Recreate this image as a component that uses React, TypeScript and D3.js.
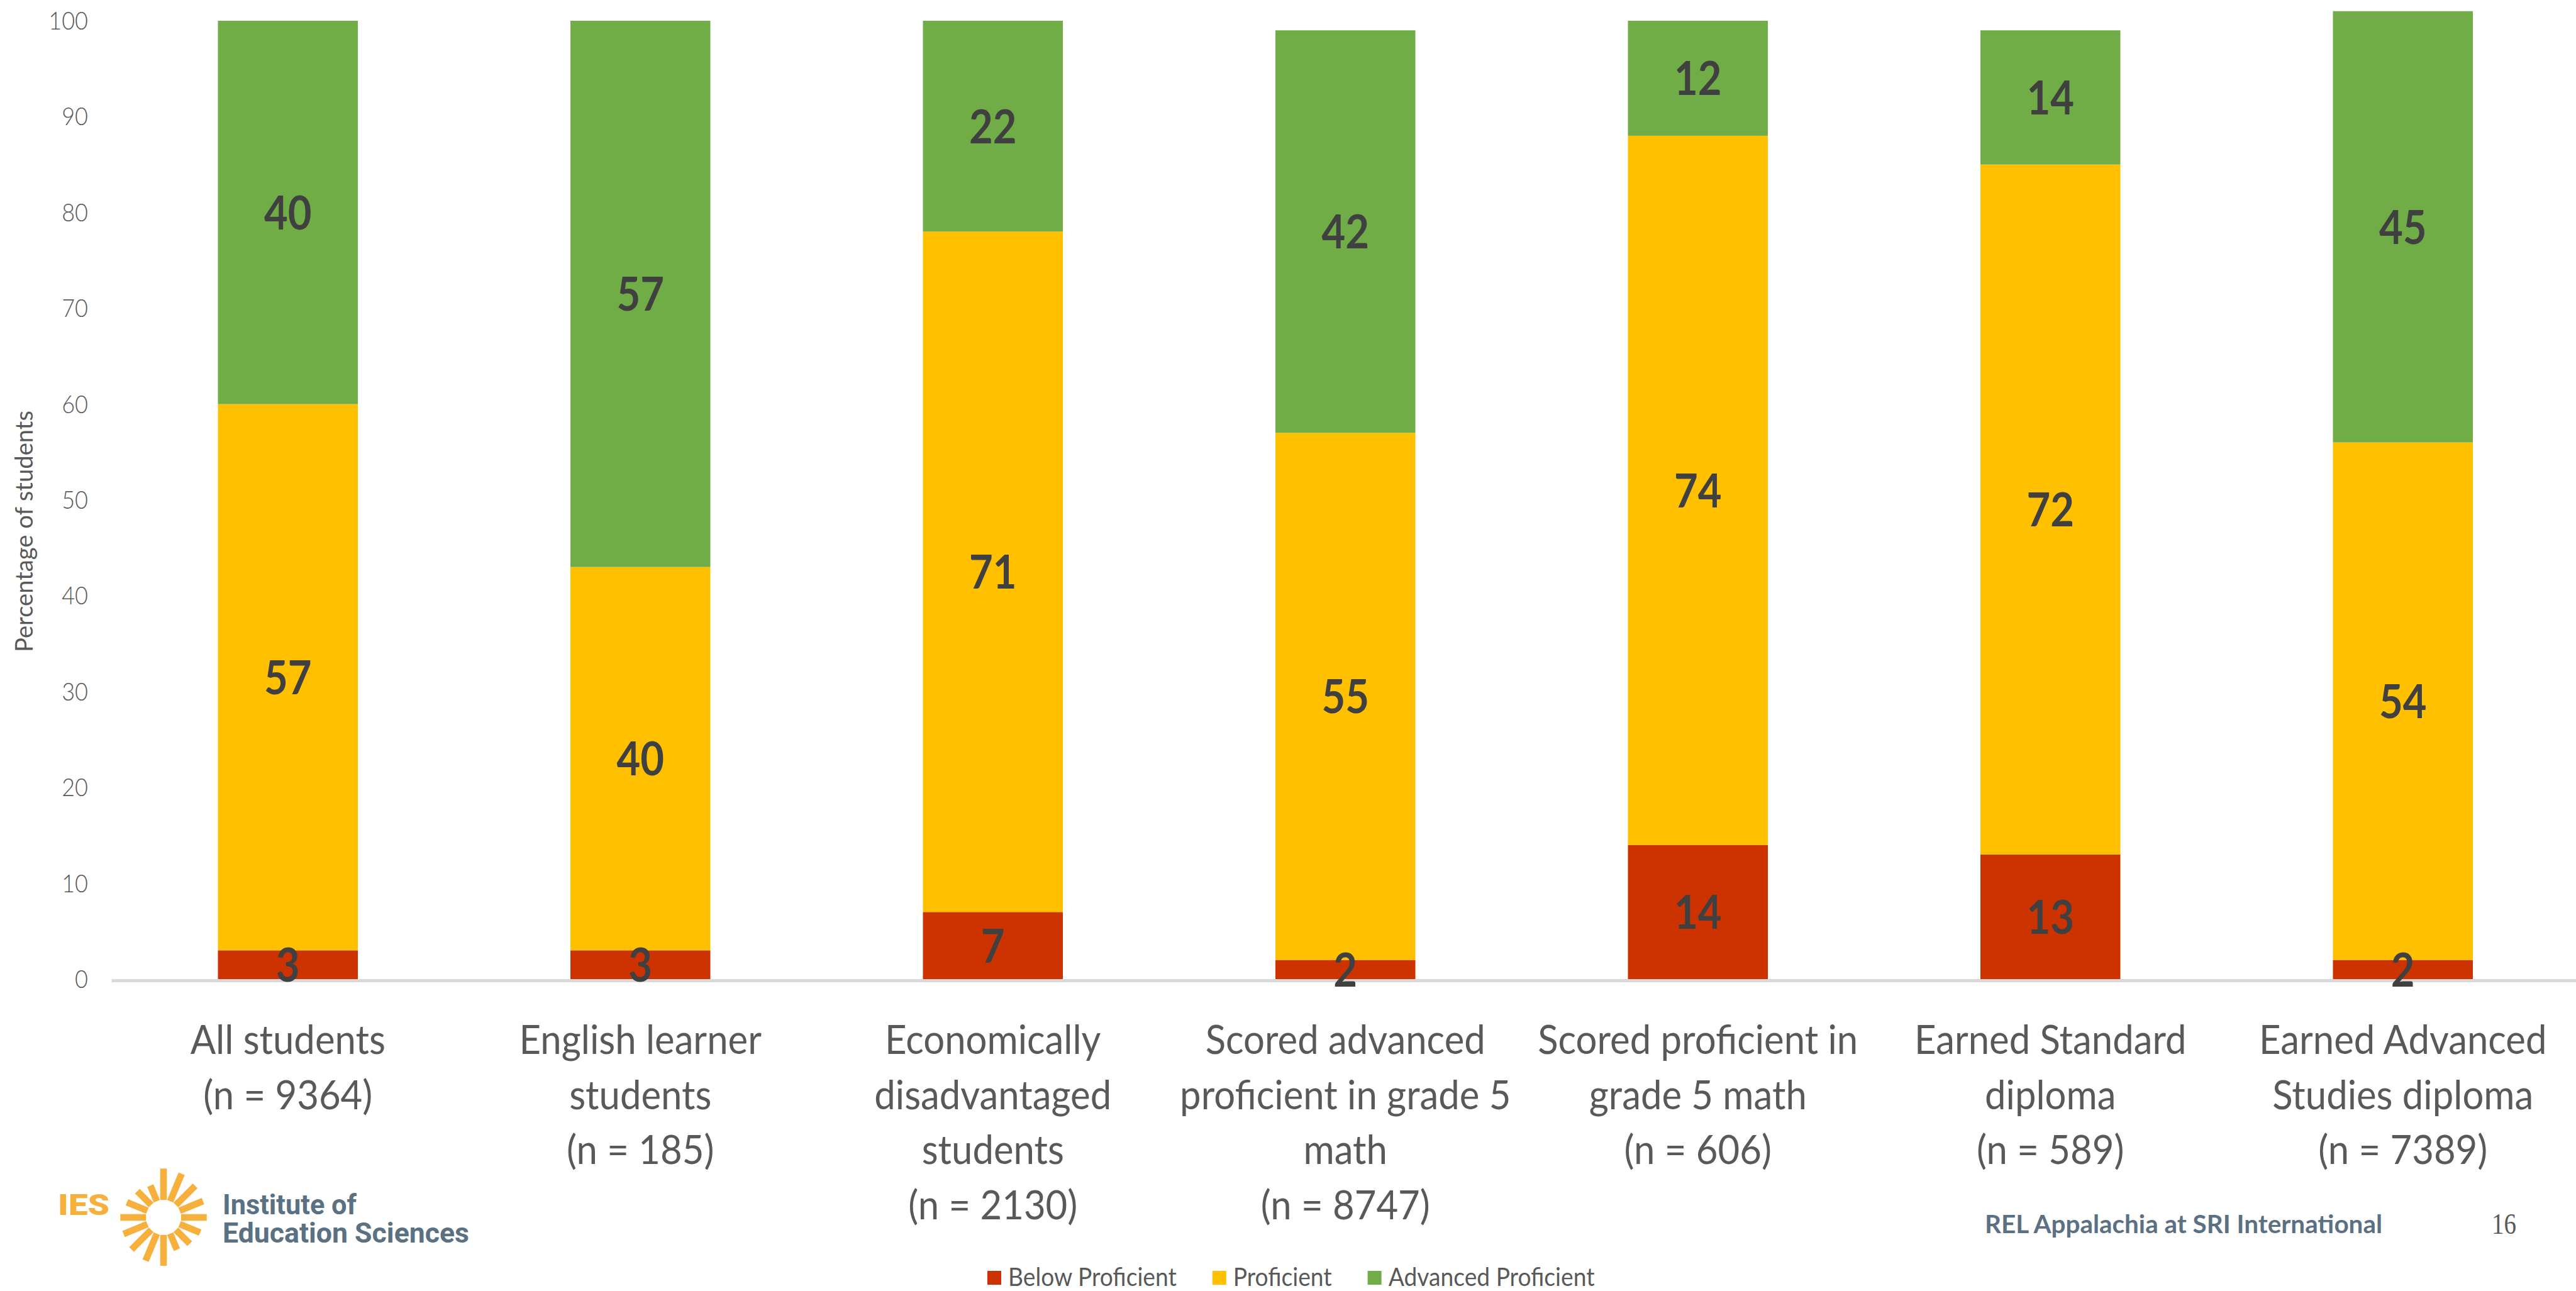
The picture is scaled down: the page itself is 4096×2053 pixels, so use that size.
import React, { useEffect, useRef } from "react";
import * as d3 from "d3";

// ---- data ----
const categoryLines: string[][] = [
  ["All students"],
  ["English learner", "students"],
  ["Economically", "disadvantaged", "students"],
  ["Scored advanced", "proficient in grade 5", "math"],
  ["Scored proficient in", "grade 5 math"],
  ["Earned Standard", "diploma"],
  ["Earned Advanced", "Studies diploma"],
];
const sampleSizes = [9364, 185, 2130, 8747, 606, 589, 7389];
const belowProficient = [3, 3, 7, 2, 14, 13, 2];
const proficient = [57, 40, 71, 55, 74, 72, 54];
const advancedProficient = [40, 57, 22, 42, 12, 14, 45];
const seriesNames = ["Below Proficient", "Proficient", "Advanced Proficient"];
const seriesColors = ["#CC3300", "#FFC000", "#70AD47"];
const yTicks = [0, 10, 20, 30, 40, 50, 60, 70, 80, 90, 100];
const yTitle = "Percentage of students";
const footerText = "REL Appalachia at SRI International";
const pageNumber = "16";

// ---- layout ----
const W = 4096;
const H = 2053;
const FONT = "Lato, 'Open Sans', 'Noto Sans', sans-serif";
const TEXT_GRAY = "#595959";
const LABEL_GRAY = "#404040";
const SQUEEZE = 0.9;

export default function App() {
  const ref = useRef<SVGSVGElement | null>(null);

  useEffect(() => {
    document.body.style.margin = "0";
    const svg = d3.select(ref.current);
    svg.selectAll("*").remove();

    const keys = ["below", "prof", "adv"];
    const rows = categoryLines.map((_, i) => ({
      idx: i,
      below: belowProficient[i],
      prof: proficient[i],
      adv: advancedProficient[i],
    }));
    const stacked = d3.stack<any>().keys(keys)(rows);

    const pad = 0.603;
    const x = d3
      .scaleBand<number>()
      .domain(rows.map((r) => r.idx))
      .range([177.5, 4101])
      .paddingInner(pad)
      .paddingOuter(pad / 2);
    const y = d3.scaleLinear().domain([0, 100]).range([1557, 33]);

    // squeezed text helper
    const txt = (
      g: any,
      tx: number,
      ty: number,
      s: string,
      opts: {
        size: number;
        fill: string;
        weight?: string | number;
        anchor?: string;
        family?: string;
        squeeze?: number;
        rotate?: number;
        len?: number;
      }
    ) => {
      const k = opts.squeeze ?? SQUEEZE;
      const t = g
        .append("text")
        .attr(
          "transform",
          `translate(${tx},${ty})${opts.rotate ? ` rotate(${opts.rotate})` : ""} scale(${k},1)`
        )
        .attr("font-family", opts.family ?? FONT)
        .attr("font-size", opts.size)
        .attr("font-weight", opts.weight ?? 400)
        .attr("fill", opts.fill)
        .attr("text-anchor", opts.anchor ?? "start")
        .text(s);
      if (opts.len) t.attr("textLength", opts.len / k).attr("lengthAdjust", "spacingAndGlyphs");
      return t;
    };

    // y tick labels
    const yAxisG = svg.append("g");
    yTicks.forEach((v) => {
      txt(yAxisG, 140, y(v) + 14, String(v), {
        size: 40,
        fill: TEXT_GRAY,
        weight: 300,
        anchor: "end",
      });
    });

    // y title
    txt(svg, 52, 845, yTitle, {
      size: 38,
      fill: TEXT_GRAY,
      anchor: "middle",
      rotate: -90,
      squeeze: 1,
      len: 384,
    });

    // bars
    const barsG = svg.append("g");
    stacked.forEach((layer, si) => {
      barsG
        .append("g")
        .attr("fill", seriesColors[si])
        .selectAll("rect")
        .data(layer)
        .join("rect")
        .attr("x", (d: any) => x(d.data.idx)!)
        .attr("width", x.bandwidth())
        .attr("y", (d: any) => y(d[1]))
        .attr("height", (d: any) => y(d[0]) - y(d[1]));
    });

    // category axis baseline
    svg
      .append("line")
      .attr("x1", x.range()[0])
      .attr("x2", W)
      .attr("y1", y(0) + 2.5)
      .attr("y2", y(0) + 2.5)
      .attr("stroke", "#D9D9D9")
      .attr("stroke-width", 5);

    // value labels
    const labelsG = svg.append("g");
    stacked.forEach((layer) => {
      layer.forEach((d: any) => {
        const v = d[1] - d[0];
        const cx = x(d.data.idx)! + x.bandwidth() / 2;
        const cy = (y(d[0]) + y(d[1])) / 2;
        txt(labelsG, cx, cy + 27, String(v), {
          size: 74,
          fill: LABEL_GRAY,
          weight: 700,
          anchor: "middle",
          squeeze: 0.88,
        });
      });
    });

    // category labels
    const catG = svg.append("g");
    categoryLines.forEach((lines, i) => {
      const cx = x(i)! + x.bandwidth() / 2;
      const all = [...lines, `(n = ${sampleSizes[i]})`];
      all.forEach((ln, j) => {
        txt(catG, cx, 1676 + j * 87.5, ln, {
          size: 63,
          fill: TEXT_GRAY,
          anchor: "middle",
          squeeze: 0.95,
        });
      });
    });

    // legend
    const legG = svg.append("g");
    const LEG_SQ = 0.93;
    let lx = 1570;
    seriesNames.forEach((name, i) => {
      legG
        .append("rect")
        .attr("x", lx)
        .attr("y", 2021)
        .attr("width", 22)
        .attr("height", 22)
        .attr("fill", seriesColors[i]);
      const t = txt(legG, lx + 33, 2045, name, { size: 40, fill: TEXT_GRAY, squeeze: LEG_SQ });
      const w = (t.node() as SVGTextElement).getComputedTextLength() * LEG_SQ;
      lx += 33 + w + 57;
    });

    // footer
    txt(svg, 3156, 1961, footerText, {
      size: 40,
      fill: "#5B7083",
      weight: 700,
      squeeze: 1,
      len: 632,
    });
    txt(svg, 3962, 1962, pageNumber, {
      size: 46,
      fill: TEXT_GRAY,
      family: "'Liberation Serif', 'Times New Roman', serif",
      squeeze: 1,
      len: 39,
    });

    // logo
    const logo = svg.append("g");
    const ORANGE = "#F8B03C";
    txt(logo, 92, 1932, "IES", {
      size: 46,
      fill: ORANGE,
      weight: 900,
      family: "Roboto, Lato, sans-serif",
      squeeze: 1,
      len: 82,
    });
    const sun = logo.append("g").attr("transform", "translate(260,1936)");
    const outer = [95, 92, 87, 83, 84, 77, 72, 68, 94, 91, 88, 84, 84, 77, 72, 67];
    outer.forEach((r, i) => {
      const a = i * 22.5;
      sun
        .append("rect")
        .attr("x", -5.3)
        .attr("y", -r * 0.818)
        .attr("width", 10.6)
        .attr("height", r * 0.818 - 27.8)
        .attr("fill", ORANGE)
        .attr("transform", `rotate(${a})`);
    });
    txt(logo, 354, 1931, "Institute of", {
      size: 44,
      fill: "#5A7184",
      weight: 700,
      family: "Roboto, Lato, sans-serif",
      squeeze: 1,
      len: 213,
    });
    txt(logo, 354, 1976, "Education Sciences", {
      size: 44,
      fill: "#5A7184",
      weight: 700,
      family: "Roboto, Lato, sans-serif",
      squeeze: 1,
      len: 392,
    });
  }, []);

  return (
    <svg
      ref={ref}
      width={W}
      height={H}
      viewBox={`0 0 ${W} ${H}`}
      style={{ display: "block", background: "#ffffff" }}
    />
  );
}
